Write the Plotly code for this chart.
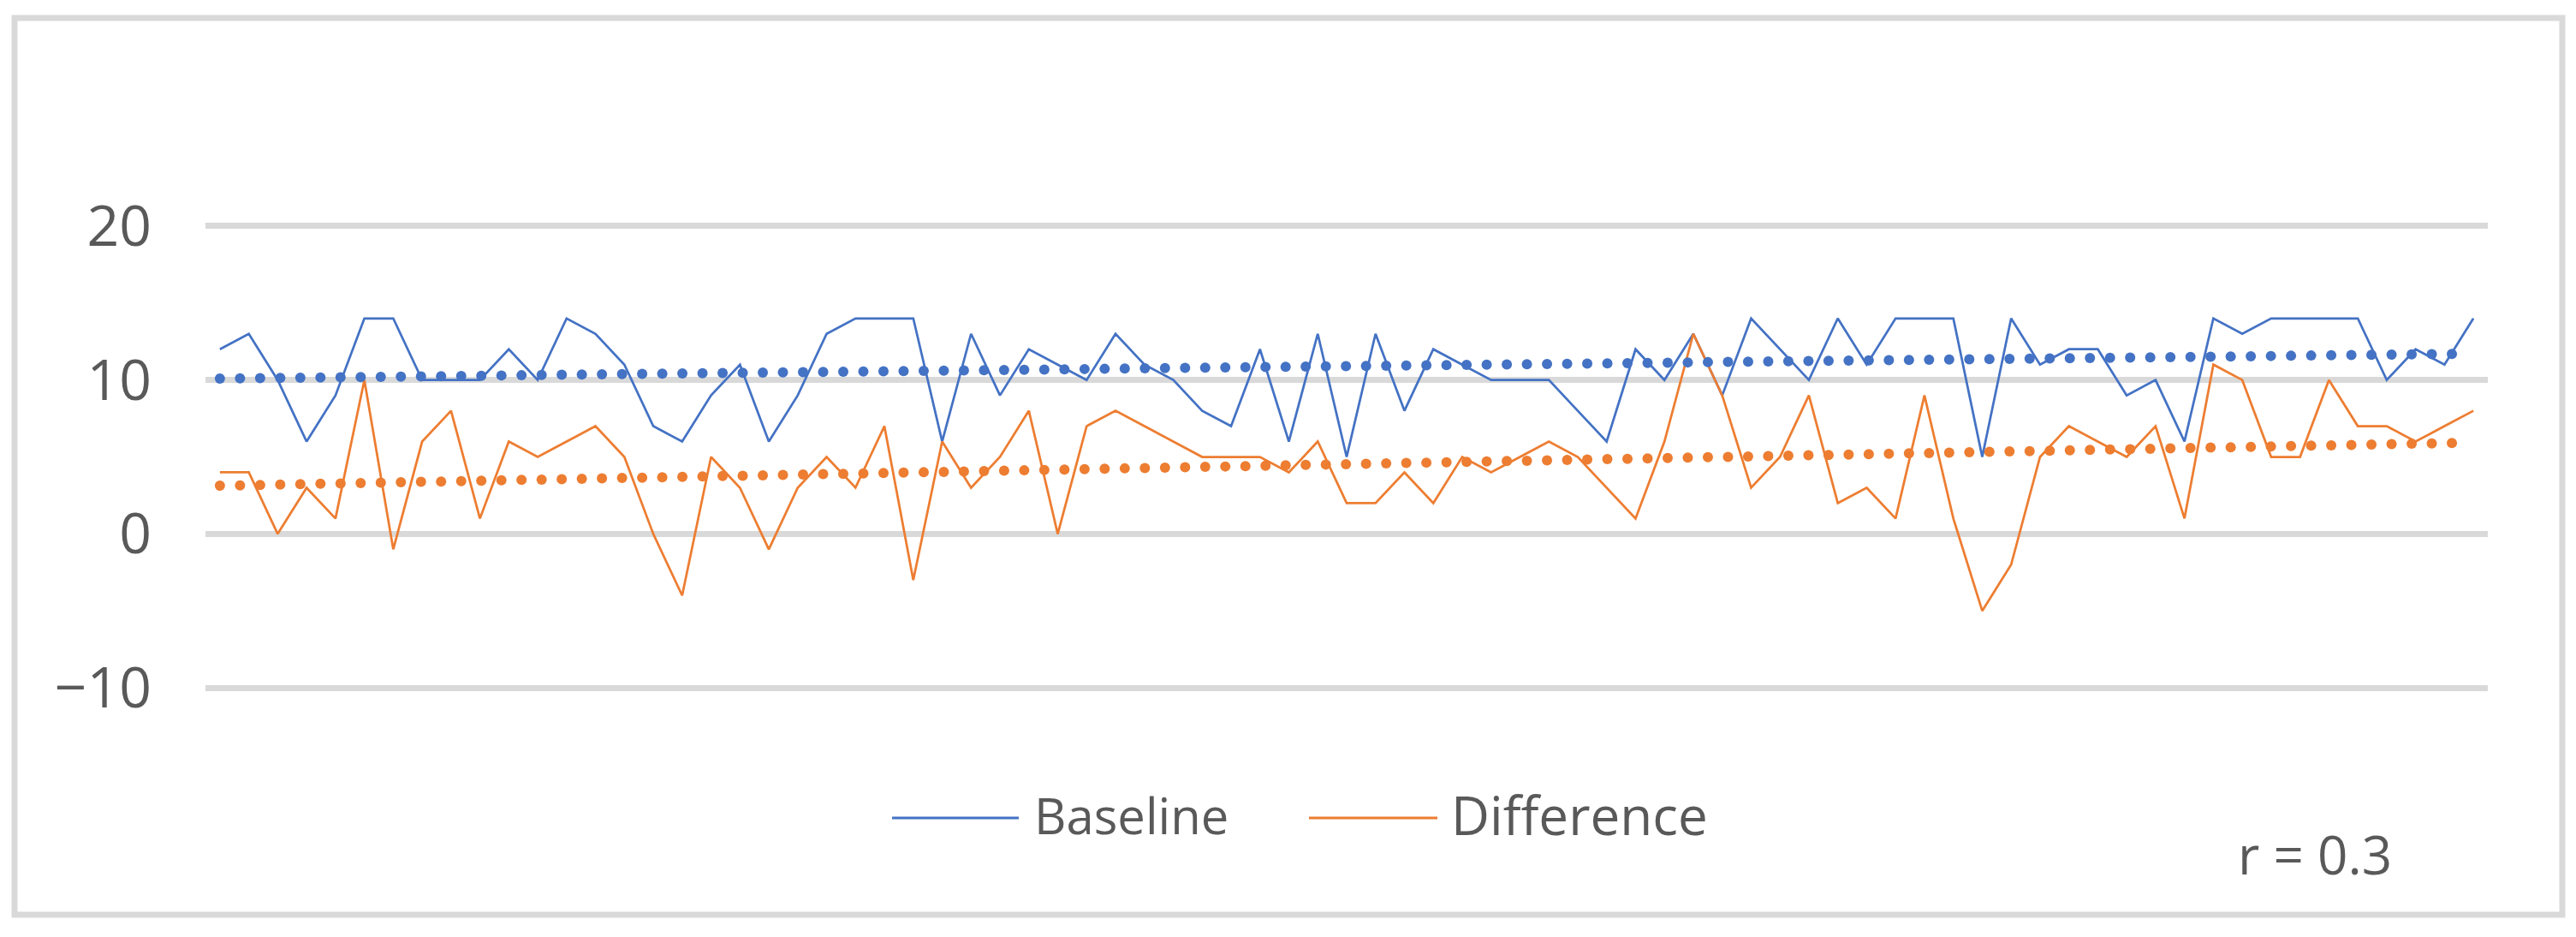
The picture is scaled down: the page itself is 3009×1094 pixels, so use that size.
import numpy as np
import plotly.graph_objects as go

# ---- data ----
baseline = [12, 13, 10, 6, 9, 14, 14, 10, 10, 10, 12, 10, 14, 13, 11, 7, 6, 9, 11, 6,
            9, 13, 14, 14, 14, 6, 13, 9, 12, 11, 10, 13, 11, 10, 8, 7, 12, 6, 13, 5,
            13, 8, 12, 11, 10, 10, 10, 8, 6, 12, 10, 13, 9, 14, 12, 10, 14, 11, 14, 14,
            14, 5, 14, 11, 12, 12, 9, 10, 6, 14, 13, 14, 14, 14, 14, 10, 12, 11, 14]
difference = [4, 4, 0, 3, 1, 10, -1, 6, 8, 1, 6, 5, 6, 7, 5, 0, -4, 5, 3, -1,
              3, 5, 3, 7, -3, 6, 3, 5, 8, 0, 7, 8, 7, 6, 5, 5, 5, 4, 6, 2,
              2, 4, 2, 5, 4, 5, 6, 5, 3, 1, 6, 13, 9, 3, 5, 9, 2, 3, 1, 9,
              1, -5, -2, 5, 7, 6, 5, 7, 1, 11, 10, 5, 5, 10, 7, 7, 6, 7, 8]
series_names = ["Baseline", "Difference"]
y_ticks = [-10, 0, 10, 20]
r_label = "r = 0.3"

BLUE = "#4472C4"
ORANGE = "#ED7D31"
GRID = "#D9D9D9"
TEXT = "#595959"
FONT = "Open Sans"

W, H = 3009, 1094
# plot area: y=20 at 264px, y=-10 at 803px; range padded by 0.5 unit each side
L, R, T, B = 240, 2906, 255, 812

x = np.arange(1, len(baseline) + 1)


def px(v):
    return (v - L) / (R - L)


def py(v):
    return (B - v) / (B - T)


fig = go.Figure()
fig.add_trace(go.Scatter(x=x, y=baseline, mode="lines", name=series_names[0],
                         line=dict(color=BLUE, width=2.75)))
fig.add_trace(go.Scatter(x=x, y=difference, mode="lines", name=series_names[1],
                         line=dict(color=ORANGE, width=2.75)))

# linear trendlines (dotted), computed from the series
tx = np.arange(1, len(x) - 0.6, 0.696)
for ys, col in ((baseline, BLUE), (difference, ORANGE)):
    k, b0 = np.polyfit(x, ys, 1)
    fig.add_trace(go.Scatter(x=tx, y=k * tx + b0, mode="markers", showlegend=False,
                             hoverinfo="skip",
                             marker=dict(color=col, size=12, line=dict(width=0))))

shapes = [
    # outer chart border
    dict(type="rect", xref="paper", yref="paper", x0=px(17), x1=px(2993),
         y0=py(1068), y1=py(21), line=dict(color=GRID, width=7), layer="below"),
    # legend samples
    dict(type="line", xref="paper", yref="paper", x0=px(1042), x1=px(1190),
         y0=py(955), y1=py(955), line=dict(color=BLUE, width=3)),
    dict(type="line", xref="paper", yref="paper", x0=px(1529), x1=px(1679),
         y0=py(955), y1=py(955), line=dict(color=ORANGE, width=3)),
]
annotations = [
    dict(xref="paper", yref="paper", x=px(1206), y=py(951), text=series_names[0],
         showarrow=False, xanchor="left", yanchor="middle",
         font=dict(family=FONT, size=58, color=TEXT)),
    dict(xref="paper", yref="paper", x=px(1693), y=py(951), text=series_names[1],
         showarrow=False, xanchor="left", yanchor="middle",
         font=dict(family=FONT, size=62, color=TEXT)),
    dict(xref="paper", yref="paper", x=px(2612), y=py(997), text=r_label,
         showarrow=False, xanchor="left", yanchor="middle",
         font=dict(family=FONT, size=62, color=TEXT)),
]

fig.update_layout(
    width=W, height=H,
    margin=dict(l=L, r=W - R, t=T, b=H - B, pad=0),
    paper_bgcolor="white", plot_bgcolor="white",
    showlegend=False,
    shapes=shapes, annotations=annotations,
    font=dict(family=FONT, color=TEXT),
    xaxis=dict(range=[0.5, len(x) + 0.5], showgrid=False, zeroline=False,
               showticklabels=False, showline=False, ticks=""),
    yaxis=dict(range=[-10.5, 20.5], tickvals=y_ticks, showgrid=True,
               gridcolor=GRID, gridwidth=7, zeroline=False, showline=False,
               ticks="", ticklabelstandoff=62,
               tickfont=dict(family=FONT, size=66, color=TEXT)),
)

fig.write_html("out.html", config={"displayModeBar": False},
               post_script="document.body.style.margin='0';")
